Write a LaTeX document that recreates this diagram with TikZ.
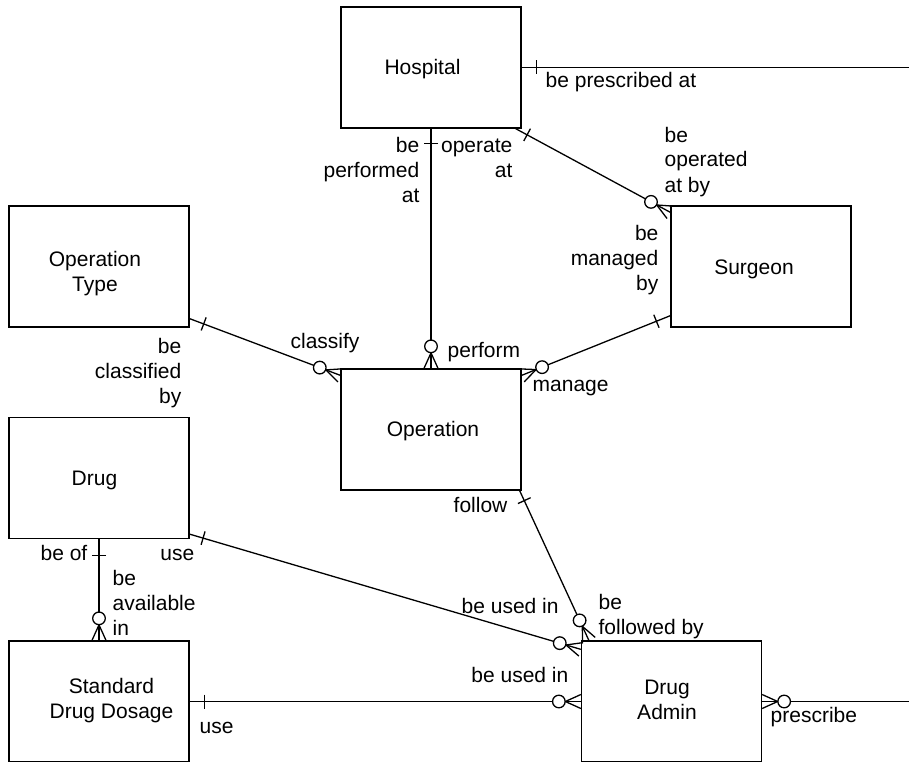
\documentclass[tikz,border=0pt]{standalone}
\usepackage{fontspec}
\setmainfont{Liberation Sans}
\usetikzlibrary{calc}

% one-side marker: short bar across the line, #1 = entity end, #2 = other end
\newcommand{\erone}[3]{%
  \coordinate (tk) at ($(#1)!#3!(#2)$);
  \draw ($(tk)!7pt!90:(#2)$) -- ($(tk)!7pt!-90:(#2)$);}
% zero-or-many marker: circle plus crow's foot, #1 = entity end, #2 = other end
\newcommand{\ermany}[2]{%
  \coordinate (ft) at ($(#1)!15.5pt!(#2)$);
  \draw ($(#1)!7pt!90:(#2)$) -- (ft) -- ($(#1)!7pt!-90:(#2)$);
  \draw[fill=white] ($(#1)!22pt!(#2)$) circle (6.3pt);}

\begin{document}
\begin{tikzpicture}[x=1pt,y=-1pt,line width=1.3pt,
  txt/.style={inner sep=0pt,font=\fontsize{21}{25}\selectfont},
  entity/.style={draw,minimum width=180pt,minimum height=121pt,inner sep=0pt},
  enttext/.style={txt,align=center},
  role/.style={txt}]
\useasboundingbox (0,0) rectangle (909,762);
\clip (0,0) rectangle (909,761.4);

% entities, each with its name set slightly off the box centre
\node[entity,label={[enttext,name=hospt,xshift=-8.5pt,yshift=-2pt]center:Hospital}] (hosp) at (431,67.5) {};
\node[entity,label={[enttext,name=optypet,xshift=-4pt,yshift=-7.5pt]center:Operation\\Type}] (optype) at (99,266.5) {};
\node[entity,label={[enttext,name=surgt,xshift=-7pt,yshift=-3pt]center:Surgeon}] (surg) at (761,266.5) {};
\node[entity,label={[enttext,name=opert,xshift=2pt,yshift=-2pt]center:Operation}] (oper) at (431,429.5) {};
\node[entity,label={[enttext,name=drugt,xshift=-4.5pt,yshift=-2.5pt]center:Drug}] (drug) at (99,478) {};
\node[entity,label={[enttext,name=sddt,xshift=12.5pt,yshift=0.5pt]center:Standard\\Drug Dosage}] (sdd) at (99,701.5) {};
\node[entity,label={[enttext,name=dat,xshift=-4.5pt,yshift=1.5pt]center:Drug\\Admin}] (da) at (671.5,701.5) {};

% connector end points
\coordinate (presc1) at (909,67.5);
\coordinate (presc2) at (909,701.5);
\coordinate (hse)  at ($(hosp.south east)+(-6,0)$);
\coordinate (snw)  at ($(surg.north west)+(0,7)$);
\coordinate (ose)  at ($(optype.south east)+(0,-9)$);
\coordinate (onw)  at ($(oper.north west)+(0,7)$);
\coordinate (ssw)  at ($(surg.south west)+(0,-12)$);
\coordinate (one)  at ($(oper.north east)+(0,7)$);
\coordinate (osse) at ($(oper.south east)+(-2,0)$);
\coordinate (dant) at ($(da.north west)+(8,0)$);
\coordinate (dse)  at ($(drug.south east)+(0,-5)$);
\coordinate (danw) at ($(da.north west)+(0,9)$);

% relationships
\draw (hosp.east) -- (presc1);
\erone{hosp.east}{presc1}{15pt}

\draw (hosp.south) -- (oper.north);
\erone{hosp.south}{oper.north}{15pt}
\ermany{oper.north}{hosp.south}

\draw (hse) -- (snw);
\erone{hse}{snw}{13pt}
\ermany{snw}{hse}

\draw (ose) -- (onw);
\erone{ose}{onw}{15pt}
\ermany{onw}{ose}

\draw (ssw) -- (one);
\erone{ssw}{one}{15pt}
\ermany{one}{ssw}

\draw (osse) -- (dant);
\erone{osse}{dant}{11pt}
\ermany{dant}{osse}

\draw (dse) -- (danw);
\erone{dse}{danw}{14pt}
\ermany{danw}{dse}

\draw (drug.south) -- (sdd.north);
\erone{drug.south}{sdd.north}{16pt}
\ermany{sdd.north}{drug.south}

\draw (sdd.east) -- (da.west);
\erone{sdd.east}{da.west}{15pt}
\ermany{da.west}{sdd.east}

\draw (da.east) -- (presc2);
\ermany{da.east}{presc2}

% role names (multi-line ones are placed by their last baseline)
\node[role,anchor=base west] (r1) at (545,88) {be prescribed at};
\node[role,anchor=base east,align=right] (r2) at (420,202) {be\\performed\\at};
\node[role,anchor=base east,align=right] (r3) at (513,178) {operate\\at};
\node[role,anchor=base west,align=left] (r4) at (664,192) {be\\operated\\at by};
\node[role,anchor=base east,align=right] (r5) at (659,290) {be\\managed\\by};
\node[role,anchor=base east,align=right] (r6) at (182,403) {be\\classified\\by};
\node[role,anchor=base west] (r7) at (290,348) {classify};
\node[role,anchor=base west] (r8) at (447,357) {perform};
\node[role,anchor=base west] (r9) at (532,391) {manage};
\node[role,anchor=base east] (r10) at (508,512) {follow};
\node[role,anchor=base west,align=left] (r11) at (598,634) {be\\followed by};
\node[role,anchor=base west] (r12) at (461,613) {be used in};
\node[role,anchor=base east] (r13) at (569,682) {be used in};
\node[role,anchor=base west] (r14) at (770,722) {prescribe};
\node[role,anchor=base east] (r15) at (195,560) {use};
\node[role,anchor=base east] (r16) at (88,560) {be of};
\node[role,anchor=base west,align=left] (r17) at (112,635) {be\\available\\in};
\node[role,anchor=base west] (r18) at (199,733) {use};
\end{tikzpicture}
\end{document}
